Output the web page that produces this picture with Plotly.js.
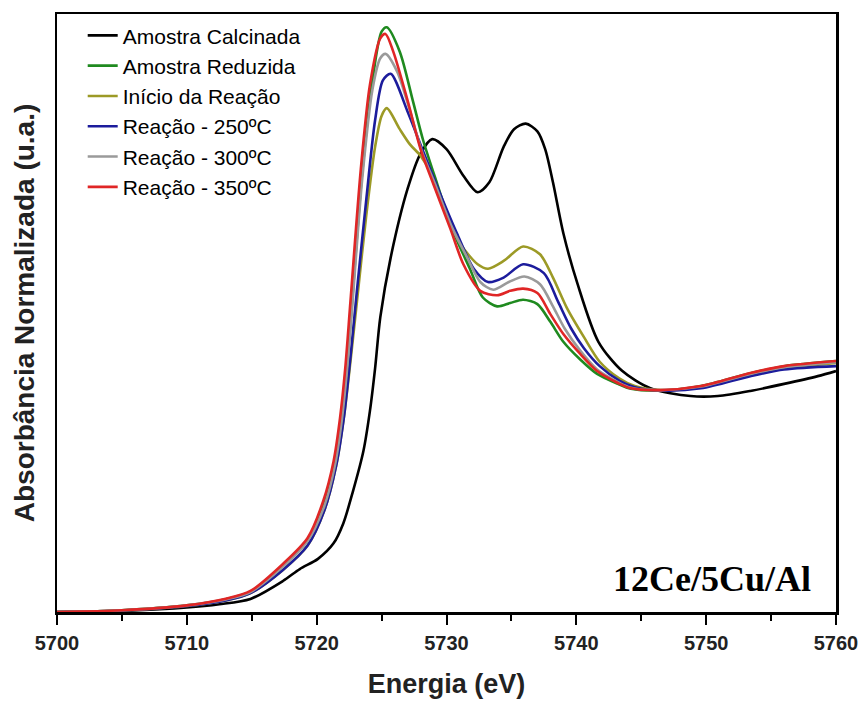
<!DOCTYPE html>
<html>
<head>
<meta charset="utf-8">
<script src="https://cdn.plot.ly/plotly-3.0.1.min.js"></script>
<style>html,body{margin:0;padding:0;background:#fff;}#chart{width:865px;height:702px;}</style>
</head>
<body>
<div id="chart"></div>
<script>
// Series names
const seriesNames = ["Amostra Calcinada", "Amostra Reduzida", "Início da Reação", "Reação - 250ºC", "Reação - 300ºC", "Reação - 350ºC"];

// Amostra Calcinada
const eCalc = [5700,5705,5710,5712.5,5714.9,5717.4,5718.7,5720.1,5721.3,5722.05,5722.8,5723.6,5724.1,5724.5,5724.9,5725.7,5727.0,5728.0,5728.9,5730.0,5731.3,5732.4,5733.3,5734.4,5735.2,5736.1,5737.0,5737.6,5738.2,5739.0,5740.1,5741.7,5743.5,5745.7,5748.8,5750.9,5753.4,5756.0,5758.6,5760];
const yCalc = [0,0.005,0.02,0.035,0.059,0.14,0.194,0.24,0.31,0.40,0.546,0.727,0.907,1.10,1.33,1.60,1.91,2.07,2.135,2.09,1.97,1.895,1.94,2.10,2.18,2.205,2.17,2.09,1.94,1.71,1.48,1.22,1.09,1.01,0.975,0.975,0.998,1.03,1.065,1.088];

// Amostra Reduzida
const eRed = [5700,5705,5710,5713,5714.9,5717.4,5719.3,5720.6,5721.4,5721.9,5722.3,5722.7,5723.5,5724.3,5725.0,5725.4,5726.4,5727.4,5728.2,5729.3,5730.5,5731.8,5732.8,5733.9,5734.9,5735.9,5737.0,5738.0,5739.0,5740.3,5741.6,5743.2,5744.2,5746.5,5749.6,5753.4,5756.0,5760];
const yRed = [0,0.008,0.03,0.058,0.092,0.21,0.325,0.49,0.67,0.87,1.09,1.38,1.98,2.40,2.62,2.64,2.53,2.31,2.13,1.93,1.72,1.55,1.42,1.38,1.395,1.41,1.39,1.31,1.22,1.14,1.075,1.03,1.008,1.0,1.02,1.078,1.11,1.133];

// Início da Reação
const eIni = [5700,5705,5710,5713,5714.9,5717.4,5719.3,5720.6,5721.5,5722.1,5722.6,5723.1,5723.8,5724.5,5725.0,5725.4,5726.4,5727.2,5728.0,5728.8,5729.8,5731.1,5732.4,5733.2,5734.4,5735.9,5737.2,5738.2,5739.3,5740.6,5741.8,5743.3,5744.5,5746.5,5749.6,5753.4,5756.0,5760];
const yIni = [0,0.007,0.027,0.052,0.085,0.19,0.30,0.46,0.66,0.88,1.13,1.40,1.78,2.10,2.24,2.275,2.18,2.11,2.06,1.98,1.82,1.66,1.57,1.55,1.585,1.65,1.615,1.51,1.37,1.24,1.13,1.055,1.02,1.002,1.015,1.07,1.10,1.125];

// Reação - 250ºC
const e250 = [5700,5705,5710,5713,5714.9,5717.4,5719.3,5720.6,5721.5,5722.1,5722.6,5723.1,5723.8,5724.5,5725.1,5725.7,5727.0,5728.2,5729.5,5730.8,5732.1,5733.2,5734.4,5735.9,5737.5,5738.6,5739.6,5740.6,5741.8,5743.3,5744.5,5746.5,5749.6,5753.4,5756.0,5760];
const y250 = [0,0.007,0.027,0.052,0.085,0.19,0.30,0.46,0.66,0.88,1.15,1.45,1.85,2.22,2.40,2.43,2.26,2.08,1.89,1.71,1.55,1.49,1.51,1.57,1.53,1.40,1.28,1.19,1.11,1.045,1.015,1.0,1.01,1.065,1.095,1.11];

// Reação - 300ºC
const e300 = [5700,5705,5710,5713,5714.9,5717.4,5719.3,5720.6,5721.4,5721.9,5722.3,5722.7,5723.5,5724.3,5724.9,5725.3,5726.2,5727.2,5728.1,5729.2,5730.4,5731.6,5732.6,5733.6,5734.8,5736.0,5737.2,5738.2,5739.1,5740.3,5741.6,5743.2,5744.2,5746.5,5749.6,5753.4,5756.0,5760];
const y300 = [0,0.008,0.03,0.057,0.09,0.205,0.32,0.48,0.66,0.85,1.07,1.35,1.95,2.36,2.50,2.52,2.44,2.26,2.08,1.92,1.74,1.60,1.49,1.455,1.49,1.515,1.48,1.38,1.28,1.18,1.095,1.038,1.012,1.002,1.018,1.075,1.105,1.128];

// Reação - 350ºC
const e350 = [5700,5705,5710,5713,5714.9,5717.4,5719.3,5720.5,5721.3,5721.8,5722.2,5722.6,5723.4,5724.1,5724.9,5725.3,5725.9,5727.0,5728.0,5729.0,5730.3,5731.3,5732.6,5733.9,5734.9,5735.9,5737.0,5738.0,5739.0,5740.3,5741.6,5743.2,5744.2,5746.5,5749.6,5753.4,5756.0,5760];
const y350 = [0,0.008,0.03,0.06,0.095,0.217,0.334,0.50,0.68,0.876,1.10,1.40,2.00,2.38,2.59,2.61,2.53,2.31,2.09,1.93,1.73,1.57,1.45,1.43,1.45,1.46,1.44,1.345,1.255,1.165,1.088,1.034,1.01,1.002,1.02,1.079,1.11,1.133];

const xTickVals = [5700,5710,5720,5730,5740,5750,5760];
const sampleLabel = "12Ce/5Cu/Al";

const xs = [eCalc, eRed, eIni, e250, e300, e350];
const ys = [yCalc, yRed, yIni, y250, y300, y350];
const colors = ["#000000", "#1f8a1f", "#9c9a26", "#1c1c9c", "#9a9a9a", "#e02626"];

const traces = seriesNames.map((n, i) => ({
  x: xs[i], y: ys[i], name: n, type: "scatter", mode: "lines",
  line: {color: colors[i], width: 2.6, shape: "spline", smoothing: 0.8}
}));

const layout = {
  width: 865, height: 702,
  margin: {l: 57, r: 29, t: 14, b: 90},
  paper_bgcolor: "#fff", plot_bgcolor: "#fff",
  showlegend: true,
  legend: {x: 0.033, y: 0.998, xanchor: "left", yanchor: "top",
           font: {family: "Liberation Sans, Arial, sans-serif", size: 21, color: "#000"},
           bgcolor: "rgba(0,0,0,0)", tracegroupgap: 0},
  xaxis: {
    range: [5700, 5760], tickvals: xTickVals, ticks: "outside", ticklen: 10, tickwidth: 2, tickcolor: "#000",
    minor: {dtick: 5, ticks: "outside", ticklen: 6, tickwidth: 2, tickcolor: "#000"},
    showline: true, linewidth: 2.5, linecolor: "#000", mirror: true, showgrid: false, zeroline: false,
    tickfont: {family: "Liberation Sans, Arial, sans-serif", size: 20, color: "#222", weight: "bold"},
    ticklabelstandoff: 1,
    title: {text: "Energia (eV)", font: {family: "Liberation Sans, Arial, sans-serif", size: 27, color: "#222", weight: "bold"}, standoff: 22}
  },
  yaxis: {
    range: [0, 2.7], showticklabels: false, ticks: "", showgrid: false, zeroline: false,
    showline: true, linewidth: 2.5, linecolor: "#000", mirror: true,
    title: {text: "Absorbância Normalizada (u.a.)", font: {family: "Liberation Sans, Arial, sans-serif", size: 28, color: "#222", weight: "bold"}, standoff: 12}
  },
  annotations: [{
    text: "<b>" + sampleLabel + "</b>", xref: "paper", yref: "paper", x: 0.97, y: 0.018,
    xanchor: "right", yanchor: "bottom", showarrow: false,
    font: {family: "Liberation Serif, Times New Roman, serif", size: 36, color: "#000"}
  }]
};

Plotly.newPlot("chart", traces, layout, {displayModeBar: false, staticPlot: true});
</script>
</body>
</html>
